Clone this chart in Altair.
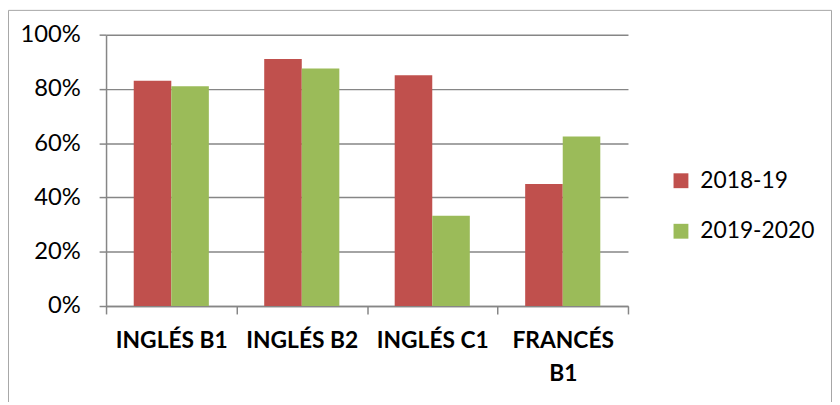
import altair as alt
import pandas as pd

categories = ["INGLÉS B1", "INGLÉS B2", "INGLÉS C1", "FRANCÉS B1"]
series = ["2018-19", "2019-2020"]
values_2018_19 = [0.83, 0.91, 0.85, 0.45]
values_2019_2020 = [0.81, 0.875, 0.333, 0.625]
colors = ["#C0504D", "#9BBB59"]
y_ticks = [0, 0.2, 0.4, 0.6, 0.8, 1.0]

rows = []
for c, a, b in zip(categories, values_2018_19, values_2019_2020):
    rows.append({"cat": c, "series": series[0], "value": a})
    rows.append({"cat": c, "series": series[1], "value": b})
df = pd.DataFrame(rows)

W, H = 527, 274
PL, PT, PR, PB = 99, 25, 206, 95
GRAY = "#868686"

bars = alt.Chart(df).mark_bar().encode(
    x=alt.X(
        "cat:N",
        sort=categories,
        scale=alt.Scale(paddingInner=0, paddingOuter=0),
        axis=alt.Axis(
            title=None, labelAngle=0, labelFont="Lato", labelFontSize=23,
            labelFontWeight="bold", labelColor="#000000", tickBand="extent",
            tickSize=8, tickColor=GRAY, tickWidth=1.5, domainColor=GRAY, domainWidth=1.5,
            labelPadding=16, labelLineHeight=33, labelBaseline="top",
            labelExpr="indexof(datum.label, 'FRANC') >= 0 ? split(datum.label, ' ') : datum.label",
        ),
    ),
    xOffset=alt.XOffset(
        "series:N", sort=series,
        scale=alt.Scale(paddingInner=0, paddingOuter=0.737),
    ),
    y=alt.Y(
        "value:Q",
        scale=alt.Scale(domain=[0, 1]),
        axis=alt.Axis(
            title=None, values=y_ticks, format=".0%", labelFont="Lato",
            labelFontSize=24, labelColor="#000000", tickSize=7, tickColor=GRAY,
            tickWidth=1.5, domainColor=GRAY, domainWidth=1.5, grid=True,
            gridColor=GRAY, gridWidth=1.5, labelPadding=19,
        ),
    ),
    color=alt.Color(
        "series:N",
        sort=series,
        scale=alt.Scale(domain=series, range=colors),
        legend=alt.Legend(
            title=None, orient="none", legendX=569, legendY=136,
            symbolType="square", symbolSize=225, symbolStrokeWidth=0,
            symbolOpacity=1, labelFont="Lato", labelFontSize=23,
            labelColor="#000000", labelOffset=8, rowPadding=27,
        ),
    ),
)

frame = alt.Chart(pd.DataFrame({"a": [0]})).mark_rect(
    filled=False, stroke="#a6a6a6", strokeWidth=1
).encode(
    x=alt.value(-PL + 0.5),
    x2=alt.value(W + PR - 0.5),
    y=alt.value(-PT + 0.5),
    y2=alt.value(H + PB + 50),
)

chart = alt.layer(frame, bars).properties(
    width=W,
    height=H,
    padding={"left": PL, "top": PT, "right": PR, "bottom": PB},
    autosize=alt.AutoSizeParams(type="none"),
).configure_view(strokeWidth=0)

chart.save("out.html", embed_options={"renderer": "svg", "actions": False})
